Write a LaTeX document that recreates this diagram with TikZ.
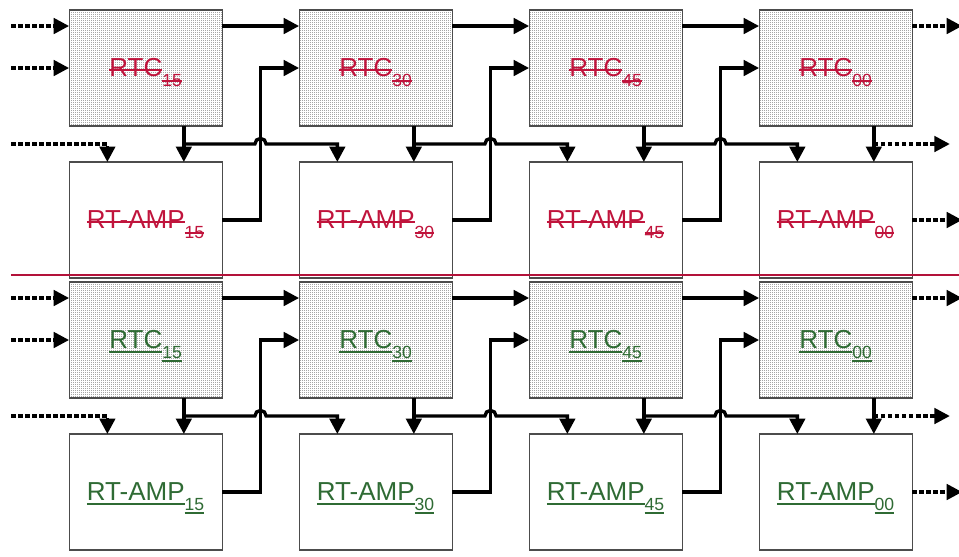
\documentclass[tikz,border=0pt]{standalone}
\usepackage{fontspec}
\setmainfont{Liberation Sans}
\usetikzlibrary{positioning, calc, arrows.meta, patterns.meta}
\definecolor{oldred}{HTML}{C0143C}
\definecolor{newgreen}{HTML}{2F6B34}
\definecolor{divider}{HTML}{B3123A}
\newsavebox{\lblbox}
\newcommand{\sline}[1]{\sbox{\lblbox}{#1}\rlap{\usebox{\lblbox}}\rule[0.45ex]{\wd\lblbox}{1.3pt}}
\newcommand{\uln}[1]{\sbox{\lblbox}{#1}\rlap{\usebox{\lblbox}}\smash{\rule[-2.7pt]{\wd\lblbox}{1.3pt}}}
\newcommand{\oldlbl}[2]{\textcolor{oldred}{\sline{#1}\raisebox{-0.36em}[\height][0pt]{\fontsize{12.5}{13}\selectfont\sline{#2}}}}
\newcommand{\newlbl}[2]{\textcolor{newgreen}{\uln{#1}\raisebox{-0.36em}[\height][0pt]{\fontsize{12.5}{13}\selectfont\uln{#2}}}}
\tikzdeclarepattern{
  name=finedots,
  type=uncolored,
  bounding box={(0pt,0pt) and (1.6pt,1.6pt)},
  tile size={(1.6pt,1.6pt)},
  code={\fill (0pt,0pt) rectangle (0.8pt,0.8pt);}
}

\begin{document}
\begin{tikzpicture}[
        node distance=1.925cm,
        font=\fontsize{18.5}{20}\selectfont,
        rtc/.style={rectangle, draw=black!70, line width=0.8pt, minimum width=3.825cm, minimum height=2.9cm, inner sep=0pt, outer sep=0pt, preaction={fill=white}, pattern=finedots, pattern color=black!35},
        amp/.style={rectangle, draw=black!70, line width=0.8pt, fill=white, minimum width=3.825cm, minimum height=2.9cm, inner sep=0pt, outer sep=0pt},
        wire/.style={-{Triangle[length=11pt, width=11pt]}, line width=2.4pt},
        feed/.style={wire, dash pattern=on 3.2pt off 1.8pt},
        redline/.style={draw=divider, line width=1.4pt}
    ]

    \useasboundingbox (0,0) rectangle (23.975,-13.9);

    % upper half (struck out)
    \node (old_rtc15) [rtc] at (3.64,-1.7) {\oldlbl{RTC}{15}};
    \node (old_rtc30) [rtc, right=of old_rtc15] {\oldlbl{RTC}{30}};
    \node (old_rtc45) [rtc, right=of old_rtc30] {\oldlbl{RTC}{45}};
    \node (old_rtc00) [rtc, right=of old_rtc45] {\oldlbl{RTC}{00}};
    \node (old_amp15) [amp, below=0.9cm of old_rtc15] {\oldlbl{RT-AMP}{15}};
    \node (old_amp30) [amp, below=0.9cm of old_rtc30] {\oldlbl{RT-AMP}{30}};
    \node (old_amp45) [amp, below=0.9cm of old_rtc45] {\oldlbl{RT-AMP}{45}};
    \node (old_amp00) [amp, below=0.9cm of old_rtc00] {\oldlbl{RT-AMP}{00}};

    % lower half (underlined)
    \node (new_rtc15) [rtc, below=0.1cm of old_amp15] {\newlbl{RTC}{15}};
    \node (new_rtc30) [rtc, right=of new_rtc15] {\newlbl{RTC}{30}};
    \node (new_rtc45) [rtc, right=of new_rtc30] {\newlbl{RTC}{45}};
    \node (new_rtc00) [rtc, right=of new_rtc45] {\newlbl{RTC}{00}};
    \node (new_amp15) [amp, below=0.9cm of new_rtc15] {\newlbl{RT-AMP}{15}};
    \node (new_amp30) [amp, below=0.9cm of new_rtc30] {\newlbl{RT-AMP}{30}};
    \node (new_amp45) [amp, below=0.9cm of new_rtc45] {\newlbl{RT-AMP}{45}};
    \node (new_amp00) [amp, below=0.9cm of new_rtc00] {\newlbl{RT-AMP}{00}};

    % helper points
    \coordinate (old_j15) at ([xshift=9.56mm, yshift=-4.5mm]old_rtc15.south);
    \coordinate (old_j30) at ([xshift=9.56mm, yshift=-4.5mm]old_rtc30.south);
    \coordinate (old_j45) at ([xshift=9.56mm, yshift=-4.5mm]old_rtc45.south);
    \coordinate (old_j00) at ([xshift=9.56mm, yshift=-4.5mm]old_rtc00.south);
    \coordinate (old_up15) at ([xshift=9.6mm]old_amp15.east);
    \coordinate (old_up30) at ([xshift=9.6mm]old_amp30.east);
    \coordinate (old_up45) at ([xshift=9.6mm]old_amp45.east);
    \coordinate (old_in1) at ([xshift=-1.45cm, yshift=-4mm]old_rtc15.north west);
    \coordinate (old_in2) at ([xshift=-1.45cm]old_rtc15.west);
    \coordinate (old_in3) at (old_in2 |- old_j15);
    \coordinate (old_out1) at ([xshift=1.25cm, yshift=-4mm]old_rtc00.north east);
    \coordinate (old_out2) at ([xshift=1.9cm]old_j00);
    \coordinate (old_out3) at ([xshift=1.25cm]old_amp00.east);

    \coordinate (new_j15) at ([xshift=9.56mm, yshift=-4.5mm]new_rtc15.south);
    \coordinate (new_j30) at ([xshift=9.56mm, yshift=-4.5mm]new_rtc30.south);
    \coordinate (new_j45) at ([xshift=9.56mm, yshift=-4.5mm]new_rtc45.south);
    \coordinate (new_j00) at ([xshift=9.56mm, yshift=-4.5mm]new_rtc00.south);
    \coordinate (new_up15) at ([xshift=9.6mm]new_amp15.east);
    \coordinate (new_up30) at ([xshift=9.6mm]new_amp30.east);
    \coordinate (new_up45) at ([xshift=9.6mm]new_amp45.east);
    \coordinate (new_in1) at ([xshift=-1.45cm, yshift=-4mm]new_rtc15.north west);
    \coordinate (new_in2) at ([xshift=-1.45cm]new_rtc15.west);
    \coordinate (new_in3) at (new_in2 |- new_j15);
    \coordinate (new_out1) at ([xshift=1.25cm, yshift=-4mm]new_rtc00.north east);
    \coordinate (new_out2) at ([xshift=1.9cm]new_j00);
    \coordinate (new_out3) at ([xshift=1.25cm]new_amp00.east);

    % upper connectors
    \draw [feed] (old_in1) -- (old_in1 -| old_rtc15.west);
    \draw [feed] (old_in2) -- (old_rtc15.west);
    \draw [feed] (old_in3) -| ([xshift=-9.56mm]old_amp15.north);

    \draw [wire] ([yshift=-4mm]old_rtc15.north east) -- ([yshift=-4mm]old_rtc30.north west);
    \draw [wire] ([yshift=-4mm]old_rtc30.north east) -- ([yshift=-4mm]old_rtc45.north west);
    \draw [wire] ([yshift=-4mm]old_rtc45.north east) -- ([yshift=-4mm]old_rtc00.north west);
    \draw [feed] ([yshift=-4mm]old_rtc00.north east) -- (old_out1);

    \draw [wire] (old_j15 |- old_rtc15.south) -- (old_j15 |- old_amp15.north);
    \draw [wire] (old_j30 |- old_rtc30.south) -- (old_j30 |- old_amp30.north);
    \draw [wire] (old_j45 |- old_rtc45.south) -- (old_j45 |- old_amp45.north);
    \draw [wire] (old_j00 |- old_rtc00.south) -- (old_j00 |- old_amp00.north);

    \draw [wire] (old_j15) -- ([xshift=-1.4mm]old_j15 -| old_up15) arc[start angle=180, end angle=0, radius=1.4mm] -| ([xshift=9.56mm]old_amp30.north west);
    \draw [wire] (old_j30) -- ([xshift=-1.4mm]old_j30 -| old_up30) arc[start angle=180, end angle=0, radius=1.4mm] -| ([xshift=9.56mm]old_amp45.north west);
    \draw [wire] (old_j45) -- ([xshift=-1.4mm]old_j45 -| old_up45) arc[start angle=180, end angle=0, radius=1.4mm] -| ([xshift=9.56mm]old_amp00.north west);
    \draw [feed] (old_j00) -- (old_out2);

    \draw [wire] (old_amp15.east) -- (old_up15) |- (old_rtc30.west);
    \draw [wire] (old_amp30.east) -- (old_up30) |- (old_rtc45.west);
    \draw [wire] (old_amp45.east) -- (old_up45) |- (old_rtc00.west);
    \draw [feed] (old_amp00.east) -- (old_out3);

    % lower connectors
    \draw [feed] (new_in1) -- (new_in1 -| new_rtc15.west);
    \draw [feed] (new_in2) -- (new_rtc15.west);
    \draw [feed] (new_in3) -| ([xshift=-9.56mm]new_amp15.north);

    \draw [wire] ([yshift=-4mm]new_rtc15.north east) -- ([yshift=-4mm]new_rtc30.north west);
    \draw [wire] ([yshift=-4mm]new_rtc30.north east) -- ([yshift=-4mm]new_rtc45.north west);
    \draw [wire] ([yshift=-4mm]new_rtc45.north east) -- ([yshift=-4mm]new_rtc00.north west);
    \draw [feed] ([yshift=-4mm]new_rtc00.north east) -- (new_out1);

    \draw [wire] (new_j15 |- new_rtc15.south) -- (new_j15 |- new_amp15.north);
    \draw [wire] (new_j30 |- new_rtc30.south) -- (new_j30 |- new_amp30.north);
    \draw [wire] (new_j45 |- new_rtc45.south) -- (new_j45 |- new_amp45.north);
    \draw [wire] (new_j00 |- new_rtc00.south) -- (new_j00 |- new_amp00.north);

    \draw [wire] (new_j15) -- ([xshift=-1.4mm]new_j15 -| new_up15) arc[start angle=180, end angle=0, radius=1.4mm] -| ([xshift=9.56mm]new_amp30.north west);
    \draw [wire] (new_j30) -- ([xshift=-1.4mm]new_j30 -| new_up30) arc[start angle=180, end angle=0, radius=1.4mm] -| ([xshift=9.56mm]new_amp45.north west);
    \draw [wire] (new_j45) -- ([xshift=-1.4mm]new_j45 -| new_up45) arc[start angle=180, end angle=0, radius=1.4mm] -| ([xshift=9.56mm]new_amp00.north west);
    \draw [feed] (new_j00) -- (new_out2);

    \draw [wire] (new_amp15.east) -- (new_up15) |- (new_rtc30.west);
    \draw [wire] (new_amp30.east) -- (new_up30) |- (new_rtc45.west);
    \draw [wire] (new_amp45.east) -- (new_up45) |- (new_rtc00.west);
    \draw [feed] (new_amp00.east) -- (new_out3);

    % divider
    \draw [redline] (0.275,-6.875) -- (23.975,-6.875);

\end{tikzpicture}
\end{document}
